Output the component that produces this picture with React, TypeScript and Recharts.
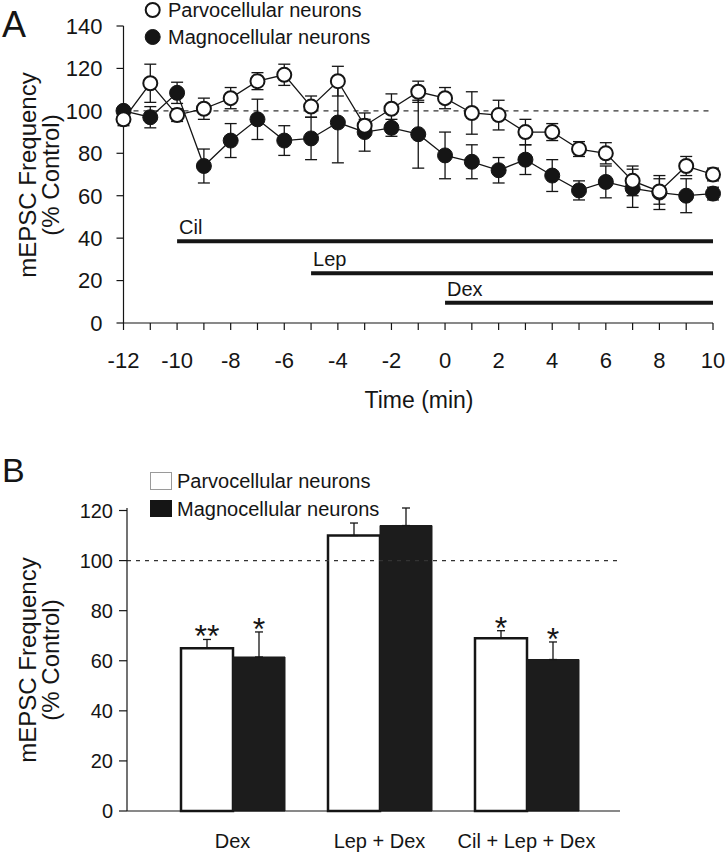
import React from 'react';
import {
  LineChart,
  Line,
  XAxis,
  YAxis,
  ErrorBar,
  ReferenceLine,
  Legend,
  LabelList,
  BarChart,
  Bar,
} from 'recharts';

const FONT = '"Liberation Sans", Arial, Helvetica, sans-serif';
const INK = '#151515';

// ---------- Panel A data ----------
const timeMin = [-12, -11, -10, -9, -8, -7, -6, -5, -4, -3, -2, -1, 0, 1, 2, 3, 4, 5, 6, 7, 8, 9, 10];
const parvoPct = [96, 113, 98, 101, 106, 114, 117, 102, 114, 93, 101, 109, 106, 99, 98, 90, 90, 82, 80, 67, 62, 74, 70];
const parvoSem = [3, 9, 3, 5, 5, 4, 5, 5, 7, 3, 7, 5, 5, 10, 7, 6, 4, 3.5, 5, 7, 6, 4.5, 3];
const magnoPct = [100, 97, 108.5, 74, 86, 96, 86, 87, 94.5, 90, 92, 89, 79, 76, 72, 77, 69.5, 62.5, 66.5, 63.5, 61.5, 60, 61];
const magnoSem = [2, 5, 5, 8, 8, 9.5, 7, 10, 19, 9, 4, 16, 11, 8, 6, 7, 7.5, 4.5, 7.5, 9, 8, 8, 3];
const timeTicks = timeMin;
const timeTickLabels = [-12, -10, -8, -6, -4, -2, 0, 2, 4, 6, 8, 10];
const freqTicksA = [0, 20, 40, 60, 80, 100, 120, 140];
const seriesNamesA = ['Parvocellular neurons', 'Magnocellular neurons'];

const drugNames = ['Cil', 'Lep', 'Dex'];
const drugStart = [-10, -5, 0];
const drugEnd = [10, 10, 10];
const drugLevel = [38.5, 23.5, 9.5];

// ---------- Panel B data ----------
const conditions = ['Dex', 'Lep + Dex', 'Cil + Lep + Dex'];
const parvoBPct = [65, 110, 69];
const parvoBSem = [3.5, 5, 3];
const magnoBPct = [61.5, 114, 60.5];
const magnoBSem = [10, 7, 7];
const parvoBSig = ['**', '', '*'];
const magnoBSig = ['*', '', '*'];
const freqTicksB = [0, 20, 40, 60, 80, 100, 120];

const seriesA = timeMin.map((t, i) => ({
  t,
  parvo: parvoPct[i],
  parvoErr: parvoSem[i],
  magno: magnoPct[i],
  magnoErr: magnoSem[i],
}));

const drugSeries = drugNames.map((name, i) => [
  { t: drugStart[i], level: drugLevel[i], label: name },
  { t: drugEnd[i], level: drugLevel[i], label: '' },
]);

const seriesB = conditions.map((c, i) => ({
  cond: c,
  parvo: parvoBPct[i],
  parvoErr: [0, parvoBSem[i]],
  parvoSig: parvoBSig[i],
  magno: magnoBPct[i],
  magnoErr: [0, magnoBSem[i]],
  magnoSig: magnoBSig[i],
}));

const DrugLabel = (props: any) => {
  const { x, y, value } = props;
  if (!value) return null;
  return (
    <text x={x + 2} y={y - 7} fontSize={20} fontFamily={FONT} fill={INK} textAnchor="start">
      {value}
    </text>
  );
};

const YLabel = (cx: number, cy: number, size: number) => () => (
  <g>
    <text
      x={27}
      y={cy}
      transform={`rotate(-90 27 ${cy})`}
      textAnchor="middle"
      dominantBaseline="central"
      fontSize={size}
      fontFamily={FONT}
      fill={INK}
    >
      mEPSC Frequency
    </text>
    <text
      x={50}
      y={cy}
      transform={`rotate(-90 50 ${cy})`}
      textAnchor="middle"
      dominantBaseline="central"
      fontSize={size}
      fontFamily={FONT}
      fill={INK}
    >
      (% Control)
    </text>
  </g>
);

const TimeLabel = () => (
  <text x={419} y={408} textAnchor="middle" fontSize={23} fontFamily={FONT} fill={INK}>
    Time (min)
  </text>
);

const LegendA = () => (
  <svg width={280} height={50} style={{ display: 'block', overflow: 'visible' }}>
    <circle cx={12.7} cy={10} r={7} fill="#fff" stroke={INK} strokeWidth={2} />
    <text x={28} y={10} dominantBaseline="central" fontSize={20} fontFamily={FONT} fill={INK}>
      {seriesNamesA[0]}
    </text>
    <circle cx={12.7} cy={37} r={7.5} fill={INK} stroke={INK} strokeWidth={1} />
    <text x={28} y={37} dominantBaseline="central" fontSize={20} fontFamily={FONT} fill={INK}>
      {seriesNamesA[1]}
    </text>
  </svg>
);

const LegendB = () => (
  <svg width={280} height={50} style={{ display: 'block', overflow: 'visible' }}>
    <rect x={10.5} y={0.5} width={21} height={17} fill="#fff" stroke="#9a9a9a" strokeWidth={1} />
    <text x={37} y={9} dominantBaseline="central" fontSize={20} fontFamily={FONT} fill={INK}>
      {seriesNamesA[0]}
    </text>
    <rect x={10} y={28} width={22} height={17} fill={INK} />
    <text x={37} y={37} dominantBaseline="central" fontSize={20} fontFamily={FONT} fill={INK}>
      {seriesNamesA[1]}
    </text>
  </svg>
);

const makeSig = (sems: number[], vals: number[]) => (props: any) => {
  const { x, y, width, height, value, index } = props;
  if (!value) return null;
  const pxPerUnit = height / vals[index];
  const capY = y - sems[index] * pxPerUnit;
  return (
    <text
      x={x + width / 2}
      y={capY + 8}
      textAnchor="middle"
      fontSize={32}
      fontFamily={FONT}
      fill={INK}
    >
      {value}
    </text>
  );
};

const tickStyleA = { fontSize: 22, fontFamily: FONT, fill: INK };
const tickStyleB = { fontSize: 20, fontFamily: FONT, fill: INK };

export default function App() {
  return (
    <div
      style={{
        position: 'absolute',
        left: 0,
        top: 0,
        width: 726,
        height: 853,
        background: '#fff',
        fontFamily: FONT,
        overflow: 'hidden',
      }}
    >
      {/* Panel A */}
      <div style={{ position: 'absolute', left: 0, top: 0 }}>
        <LineChart
          width={726}
          height={430}
          data={seriesA}
          margin={{ top: 26, right: 13, bottom: 17, left: 0 }}
        >
          <XAxis
            dataKey="t"
            type="number"
            domain={[-12, 10]}
            ticks={timeTicks}
            interval={0}
            tickFormatter={(v: number) => (timeTickLabels.includes(v) ? String(v) : '')}
            tick={tickStyleA}
            tickSize={7}
            tickMargin={22}
            height={90}
            stroke={INK}
            strokeWidth={1.2}
            label={TimeLabel}
          />
          <YAxis
            type="number"
            domain={[0, 140]}
            ticks={freqTicksA}
            interval={0}
            width={123.5}
            tick={tickStyleA}
            tickSize={7}
            tickMargin={14}
            stroke={INK}
            strokeWidth={1.2}
            label={YLabel(0, 175, 24)}
          />
          <ReferenceLine y={100} stroke="#333" strokeWidth={1.2} strokeDasharray="5 5" />
          {drugSeries.map((d, i) => (
            <Line
              key={drugNames[i]}
              data={d}
              dataKey="level"
              stroke={INK}
              strokeWidth={4}
              dot={false}
              legendType="none"
              isAnimationActive={false}
            >
              <LabelList dataKey="label" content={DrugLabel} />
            </Line>
          ))}
          <Line
            dataKey="magno"
            name={seriesNamesA[1]}
            stroke={INK}
            strokeWidth={1.3}
            dot={{ r: 7.5, fill: INK, stroke: INK, strokeWidth: 1 }}
            isAnimationActive={false}
          >
            <ErrorBar dataKey="magnoErr" width={6} stroke={INK} strokeWidth={1.3} direction="y" />
          </Line>
          <Line
            dataKey="parvo"
            name={seriesNamesA[0]}
            stroke={INK}
            strokeWidth={1.3}
            dot={{ r: 7, fill: '#fff', stroke: INK, strokeWidth: 2 }}
            isAnimationActive={false}
          >
            <ErrorBar dataKey="parvoErr" width={6} stroke={INK} strokeWidth={1.3} direction="y" />
          </Line>
          <Legend
            layout="horizontal"
            verticalAlign="middle"
            align="center"
            content={LegendA}
            wrapperStyle={{ left: 140, top: 0, width: 280, height: 50, margin: 0, padding: 0 }}
          />
        </LineChart>
      </div>

      {/* Panel B */}
      <div style={{ position: 'absolute', left: 0, top: 440 }}>
        <BarChart
          width={726}
          height={413}
          data={seriesB}
          margin={{ top: 68, right: 106, bottom: 2, left: 0 }}
          barGap={0}
        >
          <XAxis
            dataKey="cond"
            type="category"
            padding={{ left: 32, right: 20 }}
            tick={tickStyleB}
            tickLine={false}
            tickSize={0}
            tickMargin={23}
            height={40}
            stroke={INK}
            strokeWidth={1.2}
            interval={0}
          />
          <YAxis
            type="number"
            domain={[0, 120]}
            ticks={freqTicksB}
            interval={0}
            width={127}
            tick={tickStyleB}
            tickSize={8}
            tickMargin={6}
            stroke={INK}
            strokeWidth={1.2}
            label={YLabel(0, 220, 24)}
          />
          <ReferenceLine y={100} stroke="#333" strokeWidth={1.2} strokeDasharray="4 5" />
          <Bar
            dataKey="parvo"
            name={seriesNamesA[0]}
            fill="#fff"
            stroke={INK}
            strokeWidth={2.5}
            barSize={52}
            isAnimationActive={false}
          >
            <ErrorBar dataKey="parvoErr" width={4} stroke={INK} strokeWidth={1.3} direction="y" />
            <LabelList dataKey="parvoSig" content={makeSig(parvoBSem, parvoBPct)} />
          </Bar>
          <Bar
            dataKey="magno"
            name={seriesNamesA[1]}
            fill="#1c1c1c"
            stroke="#1c1c1c"
            strokeWidth={1}
            barSize={52}
            isAnimationActive={false}
          >
            <ErrorBar dataKey="magnoErr" width={4} stroke={INK} strokeWidth={1.3} direction="y" />
            <LabelList dataKey="magnoSig" content={makeSig(magnoBSem, magnoBPct)} />
          </Bar>
          <Legend
            layout="horizontal"
            verticalAlign="middle"
            align="center"
            content={LegendB}
            wrapperStyle={{ left: 140, top: 32, width: 280, height: 50, margin: 0, padding: 0 }}
          />
        </BarChart>
      </div>

      {/* Panel letters */}
      <svg
        width={726}
        height={853}
        style={{ position: 'absolute', left: 0, top: 0, pointerEvents: 'none' }}
      >
        <text x={2} y={37} fontSize={36} fontFamily={FONT} fill={INK}>
          A
        </text>
        <text x={2} y={482} fontSize={34} fontFamily={FONT} fill={INK}>
          B
        </text>
      </svg>
    </div>
  );
}
